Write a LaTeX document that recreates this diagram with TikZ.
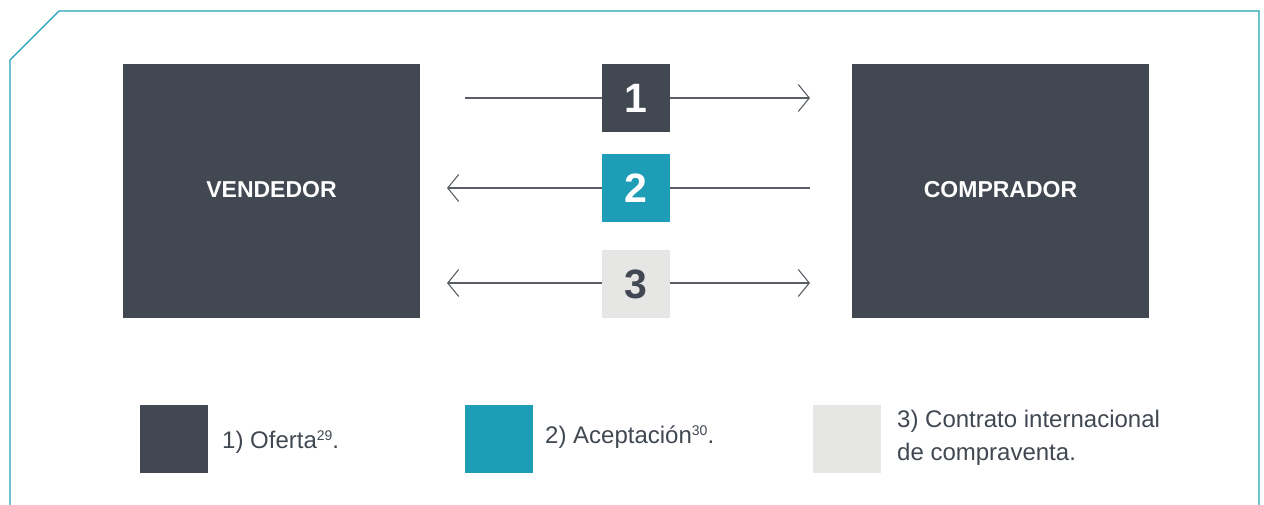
\documentclass[tikz,border=0pt]{standalone}
\usepackage{fontspec}
\setmainfont{Liberation Sans}
\usetikzlibrary{arrows.meta}
\definecolor{dark}{HTML}{414851}
\definecolor{teal}{HTML}{1E9EB6}
\definecolor{light}{HTML}{E6E7E5}
\definecolor{frame}{HTML}{1FA0B8}
\definecolor{line}{HTML}{5A5F66}
\tikzset{
  party/.style={fill=dark, minimum width=297pt, minimum height=254pt, inner sep=0pt, text=white, font=\fontsize{23}{26}\selectfont\bfseries},
  numbox/.style={minimum width=68pt, minimum height=68pt, inner sep=0pt, font=\fontsize{41}{44}\selectfont\bfseries},
  legbox/.style={minimum width=68pt, minimum height=68pt, inner sep=0pt},
  legtext/.style={anchor=west, inner sep=0pt, text=dark, font=\fontsize{24}{33}\selectfont, align=left},
  conn/.style={draw=line, line width=1.1pt, -{Straight Barb[length=11pt, width=27pt, line width=1.1pt]}},
  conn2/.style={draw=line, line width=1.1pt, {Straight Barb[length=11pt, width=27pt, line width=1.1pt]}-{Straight Barb[length=11pt, width=27pt, line width=1.1pt]}}
}
\newcommand{\supnum}[1]{\raisebox{8pt}{\fontsize{14}{14}\selectfont #1}}
\begin{document}
\begin{tikzpicture}[x=1pt, y=-1pt]
\useasboundingbox (0,0) rectangle (1264,505);
% frame
\draw[frame, line width=1.4pt] (10,505) -- (10,60) -- (59,11) -- (1259,11) -- (1259,505);
% connector end points
\coordinate (a1s) at (465,98);
\coordinate (a1e) at (810,98);
\coordinate (a2s) at (810,188);
\coordinate (a2e) at (447,188);
\coordinate (a3s) at (447,283);
\coordinate (a3e) at (810,283);
\draw[conn] (a1s) -- (a1e);
\draw[conn] (a2s) -- (a2e);
\draw[conn2] (a3s) -- (a3e);
% parties
\node[party] (vend) at (271.5,191) {\raisebox{3pt}{VENDEDOR}};
\node[party] (comp) at (1000.5,191) {\raisebox{3pt}{COMPRADOR}};
% number boxes
\node[numbox, fill=dark, text=white] (n1) at (636,98) {1};
\node[numbox, fill=teal, text=white] (n2) at (636,188) {2};
\node[numbox, fill=light, text=dark] (n3) at (636,284) {3};
% legend
\node[legbox, fill=dark] (l1) at (174,439) {};
\node[legbox, fill=teal] (l2) at (499,439) {};
\node[legbox, fill=light] (l3) at (847,439) {};
\node[legtext] (t1) at (222,442) {1) Oferta\supnum{29}.};
\node[legtext] (t2) at (545,437) {2) Aceptación\supnum{30}.};
\node[legtext] (t3) at (897,438) {3) Contrato internacional\\de compraventa.};
\end{tikzpicture}
\end{document}
